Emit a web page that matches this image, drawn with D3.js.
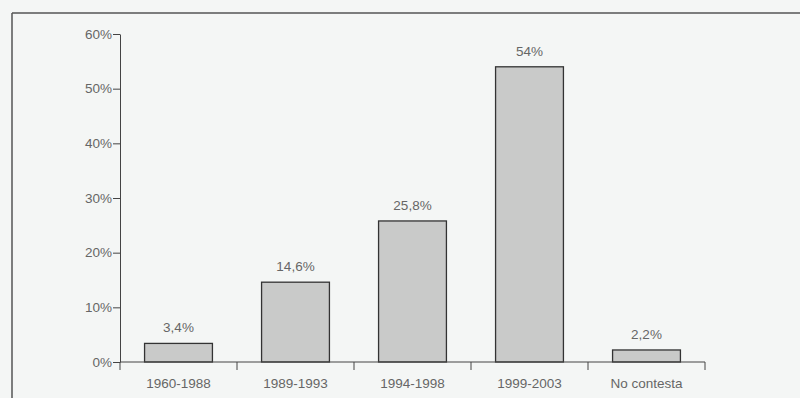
<!DOCTYPE html>
<html>
<head>
<meta charset="utf-8">
<script src="https://cdn.jsdelivr.net/npm/d3@7"></script>
<style>
  body { margin: 0; background: #f4f6f5; }
  svg { display: block; font-family: "Liberation Sans", Arial, sans-serif; }
  .axis text { fill: #666; font-size: 13.5px; }
  .axis path, .axis line { stroke: #444; }
  .bar-label { fill: #666; font-size: 13.5px; }
</style>
</head>
<body>
<div id="chart"></div>
<script>
// periods and share of answers (%)
var categories = ["1960-1988", "1989-1993", "1994-1998", "1999-2003", "No contesta"];
var values = [3.4, 14.6, 25.8, 54, 2.2];
var labels = ["3,4%", "14,6%", "25,8%", "54%", "2,2%"];
var yTicks = [0, 10, 20, 30, 40, 50, 60];

var W = 800, H = 398;
var margin = {top: 34, right: 95, bottom: 36, left: 120};
var width = W - margin.left - margin.right,
    height = H - margin.top - margin.bottom;

var svg = d3.select("#chart").append("svg")
    .attr("width", W)
    .attr("height", H);

// frame of the scanned page
svg.append("line").attr("x1", 12).attr("x2", W).attr("y1", 13).attr("y2", 13)
    .attr("stroke", "#555").attr("stroke-width", 1.5);
svg.append("line").attr("x1", 12).attr("x2", 12).attr("y1", 13).attr("y2", H)
    .attr("stroke", "#555").attr("stroke-width", 1.5);

var g = svg.append("g")
    .attr("transform", "translate(" + margin.left + "," + margin.top + ")");

var x = d3.scaleBand().domain(categories).range([0, width]).paddingInner(0.42).paddingOuter(0.21);
var y = d3.scaleLinear().domain([0, 60]).range([height, 0]);

// category boundaries for the bottom tick marks
var xEdges = d3.scaleLinear().domain([0, categories.length]).range([0, width]);

g.selectAll(".bar")
  .data(values)
  .enter().append("rect")
    .attr("class", "bar")
    .attr("x", function(d, i) { return x(categories[i]); })
    .attr("y", function(d) { return y(d); })
    .attr("width", x.bandwidth())
    .attr("height", function(d) { return height - y(d); })
    .attr("fill", "#c9cac9")
    .attr("stroke", "#333")
    .attr("stroke-width", 1.3);

g.selectAll(".bar-label")
  .data(values)
  .enter().append("text")
    .attr("class", "bar-label")
    .attr("x", function(d, i) { return x(categories[i]) + x.bandwidth() / 2; })
    .attr("y", function(d) { return y(d) - 11; })
    .attr("text-anchor", "middle")
    .text(function(d, i) { return labels[i]; });

var yAxis = d3.axisLeft(y).tickValues(yTicks).tickSize(7).tickSizeOuter(0)
    .tickFormat(function(d) { return d + "%"; });
g.append("g").attr("class", "axis axis--y").call(yAxis)
  .call(function(a) { a.selectAll("text").attr("x", -8); });

// x axis line with boundary ticks
var xg = g.append("g").attr("class", "axis axis--x")
    .attr("transform", "translate(0," + height + ")");
xg.append("line").attr("x1", 0).attr("x2", width).attr("y1", 0).attr("y2", 0);
xg.selectAll(".edge")
  .data(d3.range(categories.length + 1))
  .enter().append("line")
    .attr("class", "edge")
    .attr("x1", function(d) { return xEdges(d); })
    .attr("x2", function(d) { return xEdges(d); })
    .attr("y1", 0).attr("y2", 8);
xg.selectAll(".cat")
  .data(categories)
  .enter().append("text")
    .attr("x", function(d) { return x(d) + x.bandwidth() / 2; })
    .attr("y", 26)
    .attr("text-anchor", "middle")
    .text(function(d) { return d; });
</script>
</body>
</html>
